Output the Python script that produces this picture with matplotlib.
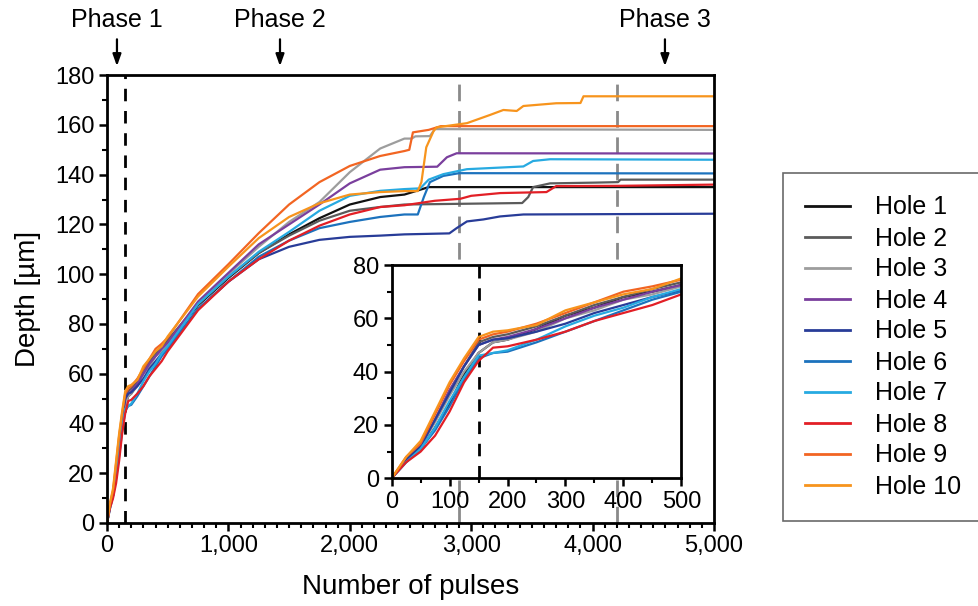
import matplotlib
matplotlib.use("Agg")
import matplotlib.pyplot as plt
from matplotlib.ticker import MultipleLocator, StrMethodFormatter

plt.rcParams["font.family"] = ["Liberation Sans", "DejaVu Sans"]

# depth readings per hole (pulses, depth in um)
early_x = [0, 25, 50, 75, 100, 125, 150, 175, 200, 250, 300, 350, 400, 450, 500]
mid_x = [750, 1000, 1250, 1500, 1750, 2000, 2250, 2450]

hole1_early = [0, 7, 11, 19, 28, 39, 47, 51, 52, 56, 61, 64, 68, 70, 72.5]
hole1_mid = [87.5, 98.5, 108.5, 116, 122.5, 128, 131, 132]
hole1_late_x = [2650, 5000]
hole1_late_y = [135, 135]

hole2_early = [0, 7, 12, 22, 33, 42, 51, 53, 54, 57, 61, 65, 68, 71, 73.5]
hole2_mid = [88, 99, 108.5, 115.5, 121.5, 125.5, 127, 128]
hole2_late_x = [3420, 3470, 3510, 3650, 4020, 4210, 4230, 5000]
hole2_late_y = [128.6, 131, 135, 136.5, 136.8, 137, 138, 138]

hole3_early = [0, 7, 12, 21, 31, 40, 47, 51, 52, 55, 60, 63, 67, 69, 72]
hole3_mid = [88.5, 100, 111, 121, 129, 141, 150.5, 154.5]
hole3_late_x = [2510, 2540, 2660, 2700, 5000]
hole3_late_y = [154.5, 155.4, 155.5, 158.3, 158]

hole4_early = [0, 7, 12, 22, 33, 42, 50, 52, 53, 56, 60, 64, 67, 70, 72.5]
hole4_mid = [89, 100.5, 112, 120, 128, 136.5, 142, 143]
hole4_late_x = [2720, 2800, 2880, 5000]
hole4_late_y = [143.2, 147, 148.6, 148.5]

hole5_early = [0, 7, 12, 22, 32, 42, 50, 52, 52.5, 55, 58, 62, 65, 68, 70.5]
hole5_mid = [86, 97, 106, 111, 113.8, 115, 115.5, 116]
hole5_late_x = [2820, 2880, 2965, 3100, 3237, 3430, 5000]
hole5_late_y = [116.4, 118.5, 121.2, 122, 123.2, 124, 124.3]

hole6_early = [0, 6, 11, 18, 27, 37, 45, 47, 47.5, 51, 55, 59, 63, 67, 70]
hole6_mid = [86, 97, 107, 113.5, 118.5, 121, 123, 124]
hole6_late_x = [2560, 2610, 2660, 2770, 2900, 5000]
hole6_late_y = [124, 131, 137, 139.5, 140.6, 140.5]

hole7_early = [0, 6, 11, 19, 29, 38, 46, 47, 48, 52, 57, 61, 64, 68, 71]
hole7_mid = [88, 99, 109, 117, 125.5, 131.5, 133.5, 134.2]
hole7_late_x = [2580, 2650, 2770, 2965, 3430, 3510, 3650, 5000]
hole7_late_y = [134.5, 138, 140.2, 142.2, 143.3, 145.5, 146.2, 146]

hole8_early = [0, 6, 10, 16, 25, 36, 44, 49, 49.5, 52, 55, 59, 62, 65, 69]
hole8_mid = [85.5, 97, 106, 113.5, 119.5, 124, 127, 127.7]
hole8_late_x = [2700, 2910, 3000, 3240, 3620, 3700, 4200, 5000]
hole8_late_y = [129.5, 130.3, 131.5, 132.6, 133, 135.4, 135.5, 136]

hole9_early = [0, 8, 13, 24, 35, 44, 52, 54, 55, 58, 62, 66, 70, 72, 74.5]
hole9_mid = [92, 104, 116.5, 128, 137, 143.5, 147.5, 149.5]
hole9_late_x = [2490, 2520, 2650, 2750, 5000]
hole9_late_y = [150, 157, 158, 159.5, 159.5]

hole10_early = [0, 8, 14, 25, 36, 45, 53, 55, 55.5, 57.5, 63, 66, 69, 71, 75]
hole10_mid = [91, 103, 114.5, 123, 128.5, 132, 133, 133.4]
hole10_late_x = [2560, 2590, 2630, 2690, 2715, 2965, 3155, 3265, 3375, 3430, 3700, 3900, 3925, 5000]
hole10_late_y = [133.4, 137, 151, 157.5, 159, 160.7, 164, 166, 165.6, 167.6, 168.7, 168.8, 171.5, 171.5]

labels = ["Hole %d" % i for i in range(1, 11)]
colors = ["#111111", "#5b5b5b", "#9d9d9d", "#7a3f9d", "#283c98",
          "#1c72bd", "#27aae1", "#e21f26", "#f26522", "#f7941d"]

early = [hole1_early, hole2_early, hole3_early, hole4_early, hole5_early,
         hole6_early, hole7_early, hole8_early, hole9_early, hole10_early]
mid = [hole1_mid, hole2_mid, hole3_mid, hole4_mid, hole5_mid,
       hole6_mid, hole7_mid, hole8_mid, hole9_mid, hole10_mid]
late_x = [hole1_late_x, hole2_late_x, hole3_late_x, hole4_late_x, hole5_late_x,
          hole6_late_x, hole7_late_x, hole8_late_x, hole9_late_x, hole10_late_x]
late_y = [hole1_late_y, hole2_late_y, hole3_late_y, hole4_late_y, hole5_late_y,
          hole6_late_y, hole7_late_y, hole8_late_y, hole9_late_y, hole10_late_y]

phase_x = [82, 1425, 4596]
phase_names = ["Phase 1", "Phase 2", "Phase 3"]

fs = 17
fig = plt.figure(figsize=(9.79, 6.06), dpi=100)
ax = fig.add_axes([0.1093, 0.137, 0.620, 0.739])
ins = fig.add_axes([0.400, 0.2107, 0.296, 0.352])

for a in (ax, ins):
    a.axvline(150, color="black", lw=2, ls=(0, (4.5, 3.5)), zorder=1)
ax.axvline(2900, color="#8a8a8a", lw=2, ls=(0, (6, 3.5)), zorder=1)
ax.axvline(4200, color="#8a8a8a", lw=2, ls=(0, (6, 3.5)), zorder=1)

for i in range(10):
    xs = early_x + mid_x + late_x[i]
    ys = early[i] + mid[i] + late_y[i]
    ax.plot(xs, ys, color=colors[i], lw=1.6, label=labels[i], zorder=2)
    ins.plot(xs, ys, color=colors[i], lw=1.6, zorder=2)

ax.set_xlim(0, 5000)
ax.set_ylim(0, 180)
ax.xaxis.set_major_locator(MultipleLocator(1000))
ax.xaxis.set_minor_locator(MultipleLocator(100))
ax.yaxis.set_major_locator(MultipleLocator(20))
ax.yaxis.set_minor_locator(MultipleLocator(10))
ax.xaxis.set_major_formatter(StrMethodFormatter("{x:,.0f}"))
ax.set_xlabel("Number of pulses", fontsize=20, labelpad=12)
ax.set_ylabel("Depth [\u00b5m]", fontsize=20, labelpad=10)

ins.set_xlim(0, 500)
ins.set_ylim(0, 80)
ins.xaxis.set_major_locator(MultipleLocator(100))
ins.xaxis.set_minor_locator(MultipleLocator(50))
ins.yaxis.set_major_locator(MultipleLocator(20))
ins.yaxis.set_minor_locator(MultipleLocator(10))
ins.set_facecolor("white")
ins.set_zorder(3)

for a in (ax, ins):
    for s in a.spines.values():
        s.set_linewidth(2)
    a.tick_params(which="major", length=6, width=1.8, labelsize=fs, pad=3)
    a.tick_params(which="minor", length=3.5, width=1.5)

for px, name in zip(phase_x, phase_names):
    ax.annotate("", xy=(px, 1.02), xytext=(px, 1.08),
                xycoords=("data", "axes fraction"), textcoords=("data", "axes fraction"),
                arrowprops=dict(arrowstyle="-|>,head_width=0.25,head_length=0.7",
                                color="black", lw=1.6, shrinkA=0, shrinkB=0),
                annotation_clip=False)
    ax.text(px, 1.123, name, transform=ax.get_xaxis_transform(), ha="center",
            va="center", fontsize=fs + 1, clip_on=False)

leg = fig.legend(loc="upper left", bbox_to_anchor=(783 / 979, 1 - 173 / 606),
                 fontsize=fs + 1, frameon=True, fancybox=False, edgecolor="#444444",
                 handlelength=1.8, handletextpad=1.0, labelspacing=0.28,
                 borderpad=0.9, borderaxespad=0)
leg.get_frame().set_linewidth(1.2)
for h in leg.legend_handles:
    h.set_linewidth(2)

fig.savefig("out.png", dpi=100)
